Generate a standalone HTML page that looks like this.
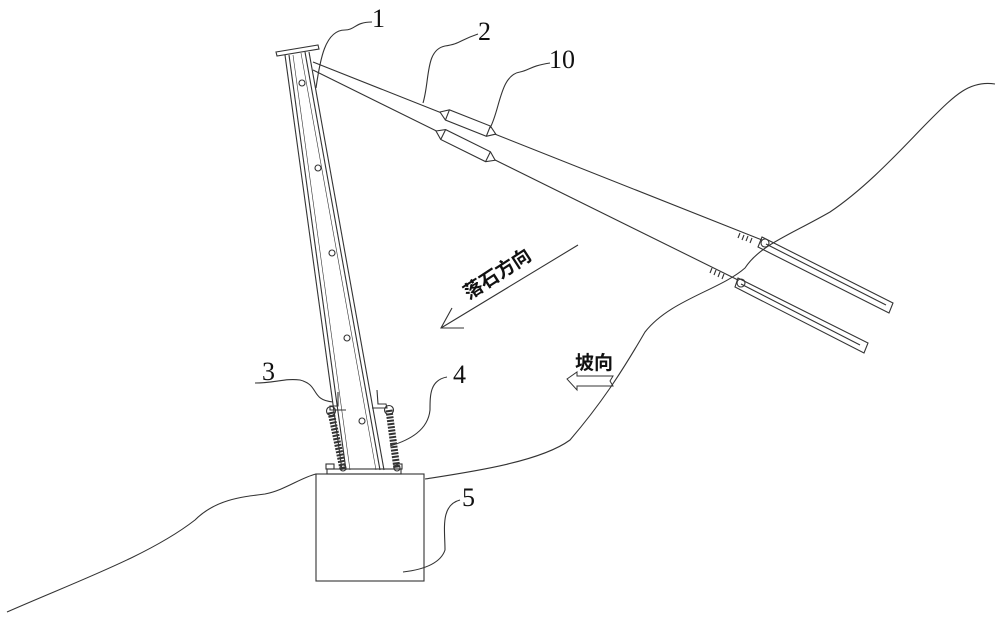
<!DOCTYPE html>
<html><head><meta charset="utf-8"><style>
html,body{margin:0;padding:0;background:#fff;}
svg{display:block;}
text{font-family:"Liberation Serif","Noto Serif CJK SC",serif;fill:#111;}
.cn{font-family:"Liberation Sans","Noto Sans CJK SC",sans-serif;}
</style></head><body>
<svg width="1000" height="618" viewBox="0 0 1000 618" xmlns="http://www.w3.org/2000/svg">
<g fill="none" stroke="#333" stroke-width="1.1">
<path d="M7,612 C80,580 150,555 195,520 C215,500 240,497 265,494 C285,490 300,478 316,474"/>
<path d="M425,479 C470,472 540,462 570,440 C600,405 620,375 645,332 C670,300 720,290 745,268 C760,245 790,235 830,212 C870,185 905,145 930,120 C955,95 970,80 995,84"/>
<rect x="316" y="474" width="108" height="107"/>
<rect x="327" y="469" width="74" height="5"/>
<rect x="326" y="464" width="8" height="5"/><rect x="394" y="464" width="8" height="5"/>
<polygon points="276,52 318,45 319,49 277,56"/>
<line x1="285" y1="55" x2="342" y2="470"/><line x1="289" y1="55" x2="346" y2="470"/>
<line x1="305" y1="52" x2="380" y2="470"/><line x1="309" y1="52" x2="384" y2="470"/>
<line x1="293" y1="55" x2="350" y2="470" stroke-width="0.6"/>
<line x1="301" y1="53" x2="376" y2="470" stroke-width="0.6"/>
<circle cx="302" cy="83" r="3"/><circle cx="318" cy="168" r="3"/><circle cx="332" cy="253" r="3"/><circle cx="347" cy="338" r="3"/><circle cx="362" cy="421" r="3"/>
<path d="M338,392 L338,406 L330,406 L330,410 L346,410"/>
<path d="M377,390 L378,404 L386,404 L387,408 L372,408"/>
<path d="M331,412 L343,469" stroke-width="7" stroke="#333" stroke-dasharray="2,1.3"/>
<path d="M389,410 L397,469" stroke-width="7" stroke="#333" stroke-dasharray="2,1.3"/>
<circle cx="331" cy="411" r="4.5"/><circle cx="389" cy="410" r="4.5"/>
<circle cx="343" cy="468" r="3"/><circle cx="397" cy="468" r="3"/>
<line x1="313" y1="62" x2="762" y2="240"/>
<line x1="313" y1="70" x2="738" y2="280"/>
<g transform="translate(440,112) rotate(21.6)">
<polygon points="0,0 8,-5.5 52,-5.5 60,0 52,5.5 8,5.5" fill="#fff"/>
<line x1="8" y1="-5.5" x2="8" y2="5.5"/><line x1="52" y1="-5.5" x2="52" y2="5.5"/>
</g>
<g transform="translate(436,131) rotate(26.3)">
<polygon points="0,0 8,-5.5 58,-5.5 66,0 58,5.5 8,5.5" fill="#fff"/>
<line x1="8" y1="-5.5" x2="8" y2="5.5"/><line x1="58" y1="-5.5" x2="58" y2="5.5"/>
</g>
<path d="M740,233 l-2,5 M744,235 l-2,5 M748,236 l-2,5 M752,238 l-2,5"/>
<path d="M712,268 l-2,5 M716,270 l-2,5 M720,272 l-2,5 M724,274 l-2,5"/>
<polygon points="762,237 893,303 889,313 758,247"/>
<line x1="766" y1="244" x2="886" y2="305"/>
<circle cx="765" cy="243" r="4"/>
<polygon points="738,278 868,343 864,353 735,287"/>
<line x1="741" y1="284" x2="860" y2="345"/>
<circle cx="741" cy="283" r="4"/>
<path d="M372,22 C355,22 355,30 345,30 C325,30 320,60 316,88"/>
<path d="M478,34 C460,40 460,44 445,46 C425,50 430,80 423,103"/>
<path d="M550,63 C530,66 530,70 520,72 C500,75 500,110 490,128"/>
<path d="M255,383 C275,383 285,378 300,380 C320,385 310,400 333,402"/>
<path d="M447,377 C430,380 430,395 430,410 C428,430 410,440 390,446"/>
<path d="M460,500 C440,505 445,530 445,550 C440,565 420,570 403,572"/>
<line x1="578" y1="245" x2="441" y2="328"/>
<path d="M452,308 L441,328 L464,328"/>
<path d="M567,379 L577,372 L577,376 L613,376 L610,381 L613,386 L577,386 L577,390 Z" stroke-width="1"/>
</g>
<text x="372" y="27" font-size="26">1</text>
<text x="478" y="40" font-size="26">2</text>
<text x="549" y="68" font-size="26">10</text>
<text x="262" y="380" font-size="26">3</text>
<text x="453" y="383" font-size="26">4</text>
<text x="462" y="506" font-size="26">5</text>
<text class="cn" x="0" y="0" font-size="19" font-weight="bold" transform="translate(469,300) rotate(-33)">落石方向</text>
<text class="cn" x="575" y="369" font-size="19" font-weight="bold">坡向</text>
</svg>
</body></html>
